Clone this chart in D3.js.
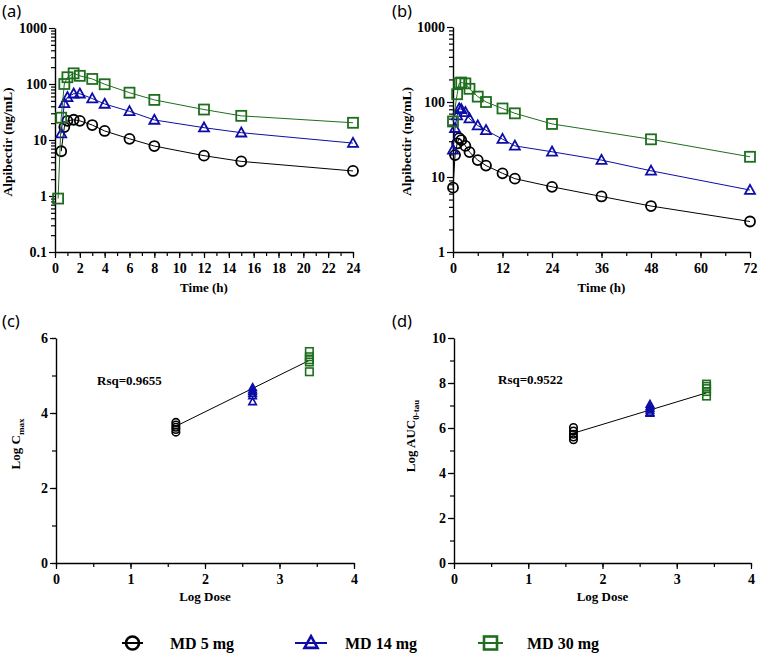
<!DOCTYPE html>
<html><head><meta charset="utf-8">
<script src="https://cdn.jsdelivr.net/npm/d3@7"></script>
<style>
body{margin:0;background:#fff}
svg{display:block}
text{font-family:"Liberation Serif","Times New Roman",serif;font-weight:bold;fill:#000}
.plabel{font-family:"Noto Sans","DejaVu Sans",sans-serif;font-weight:normal}
</style>
</head><body>
<svg id="chart" width="759" height="655"></svg>
<script>
// ---------- DATA ----------
const seriesNames = ["MD 5 mg", "MD 14 mg", "MD 30 mg"];

// Panel (a): day 1 profile
const timesA = [0.25, 0.5, 0.75, 1, 1.5, 2, 3, 4, 6, 8, 12, 15, 24];
const md5A  = [null, 6.3, 17, 22, 23, 22, 18.5, 14.5, 10.5, 7.8, 5.25, 4.15, 2.8];
const md14A = [null, 13, 45, 58, 67, 67, 55, 44, 32.5, 22.8, 16.6, 13.5, 8.8];
const md30A = [0.9, 25, 100, 132, 155, 140, 123, 99, 70, 52, 35, 27, 20.3];
const yTicksA = [0.1, 1, 10, 100, 1000];
const xTicksA = [0, 2, 4, 6, 8, 10, 12, 14, 16, 18, 20, 22, 24];

// Panel (b): multiple-dose profile
const timesB = [0, 0.5, 1, 1.5, 2, 3, 4, 6, 8, 12, 15, 24, 36, 48, 72];
const md5B  = [7.2, 19.6, 28, 33, 31, 26, 21.5, 16.8, 14.2, 11.2, 9.5, 7.4, 5.5, 4.1, 2.55];
const md14B = [23, 44.7, 66, 82, 80, 73, 60, 48.5, 42, 32, 26, 21.7, 16.8, 12.1, 6.7];
const md30B = [55, null, 127, 178, 182, 177, 150, 118, 100, 82, 70.6, 51, null, 31.8, 18.6];
const yTicksB = [1, 10, 100, 1000];
const xTicksB = [0, 12, 24, 36, 48, 60, 72];

// Panels (c), (d): dose proportionality
const logDose = [1.609, 2.639, 3.401];
const logCmax5  = [3.75, 3.68, 3.62, 3.56, 3.49];
const logCmax14 = [4.68, 4.62, 4.57, 4.52, 4.46, 4.30];
const logCmax30 = [5.64, 5.50, 5.42, 5.36, 5.10];
const fitC = [2.07, 0.98];           // intercept, slope
const rsqC = "Rsq=0.9655";
const logAuc5  = [6.02, 5.87, 5.72, 5.60, 5.48];
const logAuc14 = [7.05, 6.95, 6.87, 6.80, 6.70, 6.65];
const logAuc30 = [7.95, 7.85, 7.75, 7.62, 7.42];
const fitD = [4.16, 1.0];
const rsqD = "Rsq=0.9522";
const xTicksCD = [0, 1, 2, 3, 4];
const yTicksC = [0, 2, 4, 6];
const yTicksD = [0, 2, 4, 6, 8, 10];

// ---------- STYLE ----------
const colors = ["#000000", "#0d0da6", "#1e6e1e"];
const shapes = ["circle", "triangle", "square"];
const svg = d3.select("#chart");

function drawMarker(g, shape, x, y, s, color, sw) {
  if (shape === "circle") {
    g.append("circle").attr("cx", x).attr("cy", y).attr("r", s / 2)
      .attr("fill", "none").attr("stroke", color).attr("stroke-width", sw);
  } else if (shape === "square") {
    g.append("rect").attr("x", x - s / 2).attr("y", y - s / 2).attr("width", s).attr("height", s)
      .attr("fill", "none").attr("stroke", color).attr("stroke-width", sw);
  } else {
    const h = s * 0.9;
    g.append("path").attr("d", `M${x},${y - h * 0.58}L${x + s / 2},${y + h * 0.42}L${x - s / 2},${y + h * 0.42}Z`)
      .attr("fill", "none").attr("stroke", color).attr("stroke-width", sw).attr("stroke-linejoin", "miter");
  }
}

function styleAxis(g) {
  g.selectAll("path.domain").attr("stroke", "#000").attr("stroke-width", 1.4);
  g.selectAll(".tick line").attr("stroke", "#000").attr("stroke-width", 1.2);
  g.selectAll(".tick text").attr("font-family", '"Liberation Serif","Times New Roman",serif')
    .attr("font-weight", "bold").attr("font-size", 14).attr("fill", "#000");
  g.attr("font-family", null).attr("font-size", null);
}

function minorLog(domain) {
  const out = [];
  const a = Math.round(Math.log10(domain[0])), b = Math.round(Math.log10(domain[1]));
  for (let d = a; d < b; d++) for (let k = 2; k <= 9; k++) out.push(k * Math.pow(10, d));
  return out;
}

function pkPanel(opt) {
  const x = d3.scaleLinear().domain(opt.xDomain).range(opt.xRange);
  const y = d3.scaleLog().domain(opt.yDomain).range(opt.yRange);
  const g = svg.append("g");
  const mx = g.append("g").attr("transform", `translate(0,${opt.yRange[0]})`)
    .call(d3.axisBottom(x).tickValues(opt.xMinor).tickSize(4).tickFormat(""));
  mx.select("path.domain").remove(); styleAxis(mx);
  const my = g.append("g").attr("transform", `translate(${opt.xRange[0]},0)`)
    .call(d3.axisLeft(y).tickValues(minorLog(opt.yDomain)).tickSize(4).tickFormat(""));
  my.select("path.domain").remove(); styleAxis(my);
  const ax = g.append("g").attr("transform", `translate(0,${opt.yRange[0]})`)
    .call(d3.axisBottom(x).tickValues(opt.xTicks).tickSize(6).tickSizeOuter(0).tickPadding(5).tickFormat(d => String(d)));
  styleAxis(ax);
  const ay = g.append("g").attr("transform", `translate(${opt.xRange[0]},0)`)
    .call(d3.axisLeft(y).tickValues(opt.yTicks).tickSize(6).tickSizeOuter(0).tickPadding(2).tickFormat(d => String(d)));
  styleAxis(ay);
  opt.series.forEach((vals, i) => {
    const pts = opt.times.map((t, j) => [t, vals[j]]).filter(p => p[1] != null);
    g.append("path").datum(pts)
      .attr("d", d3.line().x(p => x(p[0])).y(p => y(p[1])))
      .attr("fill", "none").attr("stroke", colors[i]).attr("stroke-width", 1);
    const mg = g.append("g");
    pts.forEach(p => drawMarker(mg, shapes[i], x(p[0]), y(p[1]), 10, colors[i], 1.8));
  });
  g.append("text").attr("x", (opt.xRange[0] + opt.xRange[1]) / 2).attr("y", opt.xTitleY)
    .attr("text-anchor", "middle").attr("font-size", 13).text("Time (h)");
  g.append("text").attr("transform", `translate(${opt.yTitleX},${(opt.yRange[0] + opt.yRange[1]) / 2 + 2}) rotate(-90)`)
    .attr("text-anchor", "middle").attr("font-size", 13.5).text("Alpibectir (ng/mL)");
}

pkPanel({
  xDomain: [0, 24], xRange: [55, 353], yDomain: [0.1, 1000], yRange: [252, 28],
  xTicks: xTicksA, xMinor: d3.range(0, 25, 1), yTicks: yTicksA,
  times: timesA, series: [md5A, md14A, md30A], xTitleY: 292, yTitleX: 12
});
pkPanel({
  xDomain: [0, 72], xRange: [453, 750], yDomain: [1, 1000], yRange: [252, 27],
  xTicks: xTicksB, xMinor: d3.range(0, 73, 6), yTicks: yTicksB,
  times: timesB, series: [md5B, md14B, md30B], xTitleY: 292, yTitleX: 411
});

function dosePanel(opt) {
  const x = d3.scaleLinear().domain([0, 4]).range(opt.xRange);
  const y = d3.scaleLinear().domain(opt.yDomain).range(opt.yRange);
  const g = svg.append("g");
  const mx = g.append("g").attr("transform", `translate(0,${opt.yRange[0]})`)
    .call(d3.axisBottom(x).tickValues(d3.range(0, 4.01, 0.5)).tickSize(4).tickFormat(""));
  mx.select("path.domain").remove(); styleAxis(mx);
  const my = g.append("g").attr("transform", `translate(${opt.xRange[0]},0)`)
    .call(d3.axisLeft(y).tickValues(d3.range(opt.yDomain[0], opt.yDomain[1] + 0.01, 1)).tickSize(4).tickFormat(""));
  my.select("path.domain").remove(); styleAxis(my);
  const ax = g.append("g").attr("transform", `translate(0,${opt.yRange[0]})`)
    .call(d3.axisBottom(x).tickValues(xTicksCD).tickSize(6).tickSizeOuter(0).tickPadding(5).tickFormat(d => String(d)));
  styleAxis(ax);
  const ay = g.append("g").attr("transform", `translate(${opt.xRange[0]},0)`)
    .call(d3.axisLeft(y).tickValues(opt.yTicks).tickSize(6).tickSizeOuter(0).tickPadding(2).tickFormat(d => String(d)));
  styleAxis(ay);
  const x0 = logDose[0], x1 = logDose[2];
  g.append("line").attr("x1", x(x0)).attr("y1", y(opt.fit[0] + opt.fit[1] * x0))
    .attr("x2", x(x1)).attr("y2", y(opt.fit[0] + opt.fit[1] * x1))
    .attr("stroke", "#000").attr("stroke-width", 1);
  opt.groups.forEach((vals, i) => {
    const mg = g.append("g");
    vals.forEach(v => drawMarker(mg, shapes[i], x(logDose[i]), y(v), 7.5, colors[i], 1.6));
  });
  g.append("text").attr("x", opt.rsqX).attr("y", opt.rsqY).attr("font-size", 13).text(opt.rsq);
  g.append("text").attr("x", (opt.xRange[0] + opt.xRange[1]) / 2).attr("y", 601)
    .attr("text-anchor", "middle").attr("font-size", 13).text("Log Dose");
  const t = g.append("text").attr("transform", `translate(${opt.yTitleX},${opt.yTitleY}) rotate(-90)`)
    .attr("text-anchor", "middle").attr("font-size", 13);
  t.append("tspan").text(opt.yTitle[0]);
  t.append("tspan").attr("font-size", 9).attr("dy", 4).text(opt.yTitle[1]);
}

dosePanel({
  xRange: [56, 354], yDomain: [0, 6], yRange: [563, 338], yTicks: yTicksC,
  groups: [logCmax5, logCmax14, logCmax30], fit: fitC, rsq: rsqC, rsqX: 97, rsqY: 385,
  yTitle: ["Log C", "max"], yTitleX: 20, yTitleY: 444
});
dosePanel({
  xRange: [454, 751], yDomain: [0, 10], yRange: [563, 338], yTicks: yTicksD,
  groups: [logAuc5, logAuc14, logAuc30], fit: fitD, rsq: rsqD, rsqX: 498, rsqY: 384,
  yTitle: ["Log AUC", "0-tau"], yTitleX: 415, yTitleY: 436
});

// panel labels
[["(a)", 2, 17], ["(b)", 392, 17], ["(c)", 2, 327], ["(d)", 392, 327]].forEach(([s, x, y]) => {
  svg.append("text").attr("class", "plabel").attr("x", x).attr("y", y).attr("font-size", 16.5).text(s);
});

// legend
const legX = [[122, 143, 170], [295, 327, 345], [478, 503, 527]];
const lg = svg.append("g");
seriesNames.forEach((name, i) => {
  const [a, b, tx] = legX[i];
  const cy = 643;
  lg.append("line").attr("x1", a).attr("x2", b).attr("y1", cy).attr("y2", cy)
    .attr("stroke", colors[i]).attr("stroke-width", 2);
  drawMarker(lg, shapes[i], (a + b) / 2, cy, 13, colors[i], 2.6);
  lg.append("text").attr("x", tx).attr("y", 649).attr("font-size", 16).text(name);
});
</script>
</body></html>
